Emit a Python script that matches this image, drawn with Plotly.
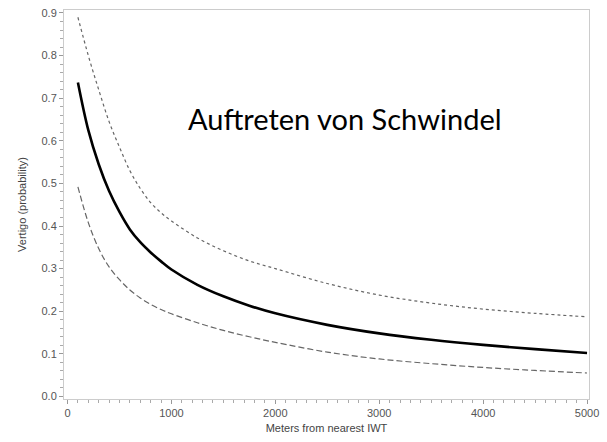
import plotly.graph_objects as go

# Distance from the nearest industrial wind turbine (m)
distance_m = [100, 200, 300, 400, 500, 600, 700, 800, 900, 1000, 1250, 1500, 1750,
              2000, 2500, 3000, 3500, 4000, 4500, 5000]

# Predicted probability of vertigo with its confidence limits
vertigo_est = [0.737, 0.625, 0.545, 0.482, 0.433, 0.392, 0.362, 0.338, 0.317, 0.298,
               0.262, 0.235, 0.213, 0.195, 0.168, 0.148, 0.133, 0.121, 0.111, 0.102]
vertigo_upper = [0.890, 0.800, 0.720, 0.645, 0.585, 0.530, 0.488, 0.455, 0.431, 0.412,
                 0.372, 0.342, 0.318, 0.300, 0.265, 0.238, 0.219, 0.205, 0.195, 0.187]
vertigo_lower = [0.492, 0.408, 0.347, 0.304, 0.274, 0.250, 0.231, 0.216, 0.204, 0.194,
                 0.173, 0.155, 0.140, 0.127, 0.104, 0.088, 0.077, 0.068, 0.061, 0.055]

x_ticks = [0, 1000, 2000, 3000, 4000, 5000]
y_ticks = [0.0, 0.1, 0.2, 0.3, 0.4, 0.5, 0.6, 0.7, 0.8, 0.9]

fig = go.Figure()
fig.add_trace(go.Scatter(x=distance_m, y=vertigo_upper, mode="lines", line_shape="spline",
                         line=dict(color="#666666", width=1.2, dash="3px,3px")))
fig.add_trace(go.Scatter(x=distance_m, y=vertigo_lower, mode="lines", line_shape="spline",
                         line=dict(color="#666666", width=1.2, dash="6px,3px")))
fig.add_trace(go.Scatter(x=distance_m, y=vertigo_est, mode="lines", line_shape="spline",
                         line=dict(color="#000000", width=2.6)))

fig.add_annotation(text="Auftreten von Schwindel", x=0.535, y=0.72, xref="paper", yref="paper",
                   xanchor="center", yanchor="middle", showarrow=False,
                   font=dict(family="Lato, Open Sans, sans-serif", size=29, color="#000000"))

axis_font = dict(family="Liberation Sans, Arial, sans-serif", size=11, color="#555555")
title_font = dict(family="Liberation Sans, Arial, sans-serif", size=11, color="#444444")
fig.update_xaxes(range=[-34, 5019], tickvals=x_ticks, ticks="outside", ticklen=4,
                 tickcolor="#999999", tickfont=axis_font,
                 minor=dict(dtick=100, ticks="outside", ticklen=3, tickcolor="#aaaaaa"),
                 showline=True, linecolor="#cccccc", mirror=True, showgrid=False, zeroline=False,
                 title=dict(text="Meters from nearest IWT", font=title_font, standoff=6))
fig.update_yaxes(range=[-0.006, 0.907], tickvals=y_ticks, tickformat=".1f", ticks="outside", ticklen=4,
                 tickcolor="#999999", tickfont=axis_font,
                 minor=dict(dtick=0.02, ticks="outside", ticklen=3, tickcolor="#aaaaaa"),
                 showline=True, linecolor="#cccccc", mirror=True, showgrid=False, zeroline=False,
                 title=dict(text="Vertigo (probability)", font=title_font, standoff=12))

fig.update_layout(width=607, height=442, margin=dict(l=64, r=18, t=7, b=43),
                  paper_bgcolor="white", plot_bgcolor="white", showlegend=False)

fig.write_html("out.html")
